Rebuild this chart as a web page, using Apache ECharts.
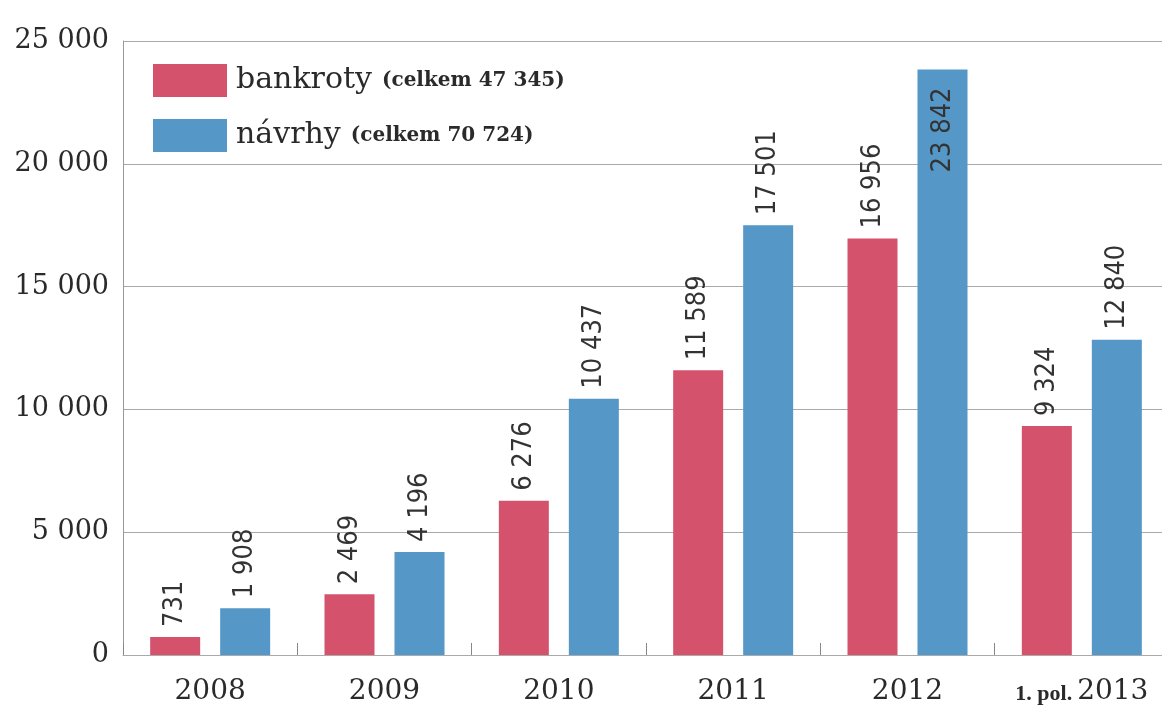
<!DOCTYPE html>
<html>
<head>
    <meta charset="utf-8">
    <script type="text/javascript" src="https://cdn.jsdelivr.net/npm/echarts@6/dist/echarts.min.js"></script>
    <title>Bankroty a návrhy</title>
    <style>
        body { margin: 0; background: #fff; }
    </style>
</head>
<body>
    <div id="container" style="width:1162px;height:708px;"></div>
    <script type="text/javascript">
    // data
    var categories = ['2008', '2009', '2010', '2011', '2012', '1. pol. 2013'];
    var seriesNames = ['bankroty', 'návrhy'];
    var seriesTotals = ['47 345', '70 724'];
    var bankroty = [731, 2469, 6276, 11589, 16956, 9324];
    var navrhy = [1908, 4196, 10437, 17501, 23842, 12840];
    var yTicks = [0, 5000, 10000, 15000, 20000, 25000];

    var serif = '"DejaVu Serif", "Liberation Serif", serif';
    var sans = '"DejaVu Sans Condensed", "DejaVu Sans", "Noto Sans", sans-serif';

    // cislo s mezerou jako oddelovacem tisicu
    function fmt(v) {
        return String(v).replace(/\B(?=(\d{3})+(?!\d))/g, ' ');
    }

    // popisky svisle nad sloupcem, u vysokych sloupcu uvnitr
    function buildData(values) {
        return values.map(function (v) {
            if (v > 22000) {
                return {
                    value: v,
                    label: { position: 'insideTop', align: 'right', distance: 18 }
                };
            }
            return v;
        });
    }

    var myChart = echarts.init(document.getElementById('container'));

    var barLabel = {
        show: true,
        position: 'top',
        rotate: 90,
        align: 'left',
        verticalAlign: 'middle',
        distance: 10,
        fontFamily: sans,
        fontSize: 27,
        color: '#333',
        formatter: function (p) { return fmt(p.value); }
    };

    var option = {
        animation: false,
        grid: { left: 123, width: 1046, top: 41, bottom: 53, outerBoundsMode: 'none' },
        legend: {
            orient: 'vertical',
            left: 148,
            top: 59,
            itemWidth: 74,
            itemHeight: 33,
            itemGap: 22,
            icon: 'rect',
            data: seriesNames,
            formatter: function (name) {
                var i = seriesNames.indexOf(name);
                return '{a|' + name + '}{b|(celkem ' + seriesTotals[i] + ')}';
            },
            textStyle: {
                padding: [0, 0, 0, 4],
                rich: {
                    a: { fontFamily: serif, fontSize: 30, color: '#2a2a2a' },
                    b: { fontFamily: serif, fontSize: 20, fontWeight: 'bold', color: '#2a2a2a', padding: [0, 0, 0, 10] }
                }
            }
        },
        xAxis: {
            type: 'category',
            data: categories,
            axisLine: { lineStyle: { color: '#aaa', width: 1 } },
            axisTick: { show: true, inside: true, length: 12, interval: 0, lineStyle: { color: '#888' } },
            axisLabel: {
                interval: 0,
                margin: 19,
                color: '#2a2a2a',
                formatter: function (v) {
                    var m = v.match(/^(1\. pol\.) (\d+)$/);
                    if (m) return '{s|' + m[1] + '}{n|' + m[2] + '}';
                    return '{n|' + v + '}';
                },
                rich: {
                    n: { fontFamily: serif, fontSize: 28, color: '#2a2a2a', verticalAlign: 'bottom', lineHeight: 32 },
                    s: {
                        fontFamily: '"Liberation Serif", serif', fontSize: 22, fontWeight: 'bold',
                        color: '#2a2a2a', verticalAlign: 'bottom', lineHeight: 32,
                        padding: [0, 5, 1, 0]
                    }
                }
            }
        },
        yAxis: {
            type: 'value',
            min: yTicks[0],
            max: yTicks[yTicks.length - 1],
            interval: 5000,
            axisLine: { show: true, lineStyle: { color: '#999' } },
            axisTick: { show: false },
            splitLine: { lineStyle: { color: '#aaa', width: 1 } },
            axisLabel: {
                margin: 14,
                fontFamily: serif,
                fontSize: 27,
                color: '#2a2a2a',
                formatter: function (v) { return fmt(v); }
            }
        },
        series: [{
            name: seriesNames[0],
            type: 'bar',
            barWidth: 50,
            barGap: '40%',
            itemStyle: { color: '#D5526D' },
            label: barLabel,
            data: buildData(bankroty)
        }, {
            name: seriesNames[1],
            type: 'bar',
            barWidth: 50,
            barGap: '40%',
            itemStyle: { color: '#5597C6' },
            label: barLabel,
            data: buildData(navrhy)
        }]
    };

    myChart.setOption(option);
    </script>
</body>
</html>
